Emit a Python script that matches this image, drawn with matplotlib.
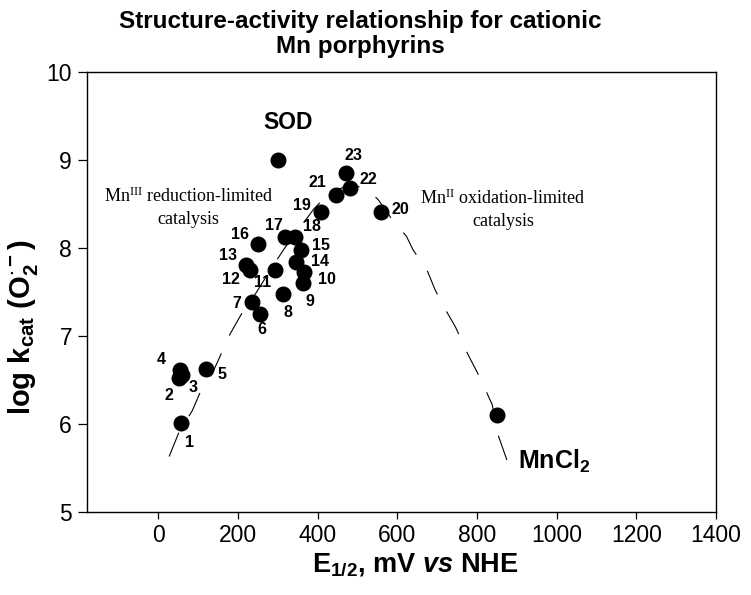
import matplotlib
matplotlib.use('Agg')
import matplotlib.pyplot as plt

plt.rcParams['font.family'] = ['Liberation Sans', 'DejaVu Sans']
plt.rcParams['mathtext.fontset'] = 'custom'
plt.rcParams['mathtext.rm'] = 'Liberation Sans:bold'
plt.rcParams['mathtext.bf'] = 'Liberation Sans:bold'
plt.rcParams['mathtext.it'] = 'Liberation Sans:italic:bold'
plt.rcParams['mathtext.default'] = 'regular'
plt.rcParams['lines.scale_dashes'] = False

# compounds 1-23: E1/2 (mV vs NHE) and log kcat
compound_ids = [str(i) for i in range(1, 24)]
e_half = [58, 52, 60, 54, 119, 255, 236, 313, 364, 365, 292, 230,
          219, 346, 357, 251, 319, 344, 409, 560, 447, 480, 470]
log_kcat = [6.01, 6.52, 6.56, 6.61, 6.62, 7.25, 7.39, 7.48, 7.60, 7.72, 7.75, 7.75,
            7.80, 7.84, 7.98, 8.04, 8.12, 8.12, 8.41, 8.41, 8.60, 8.68, 8.85]

# reference points
sod_e, sod_k = 300, 9.00
mncl2_e, mncl2_k = 850, 6.10

# dashed volcano curve
curve_x = [27, 52, 85, 108, 138, 163, 181, 215, 244, 269, 290, 313, 344, 372, 390,
           424, 460, 495, 531, 553, 587, 623, 639, 676, 695, 723, 746, 776, 808,
           838, 854, 875]
curve_y = [5.63, 5.91, 6.15, 6.39, 6.60, 6.85, 7.03, 7.30, 7.48, 7.66, 7.81, 7.97,
           8.17, 8.33, 8.44, 8.60, 8.68, 8.71, 8.64, 8.54, 8.32, 8.13, 7.98, 7.73,
           7.52, 7.28, 7.10, 6.80, 6.52, 6.22, 5.86, 5.59]

x_ticks = [0, 200, 400, 600, 800, 1000, 1200, 1400]
y_ticks = [5, 6, 7, 8, 9, 10]

# label offsets in pixels (right, down) from each point
label_px = [(8, 19), (-10, 17), (11, 13), (-19, -11), (16, 5), (2, 16), (-16, 2),
            (5, 19), (7, 18), (23, 7), (-12, 13), (-19, 10), (-18, -10), (24, 0),
            (20, -4), (-18, -10), (-12, -12), (17, -11), (-19, -6), (19, -2),
            (-19, -12), (19, -8), (8, -17)]

fig = plt.figure(figsize=(7.51, 5.95), dpi=100)
ax = fig.add_axes([86.7 / 751, 83 / 595, 629.3 / 751, 440.3 / 595])

ax.plot(curve_x, curve_y, color='black', lw=0.8, dashes=(18.5, 14), zorder=1)
ax.plot(e_half, log_kcat, 'o', color='black', ms=10.5, zorder=3)
ax.plot([sod_e, mncl2_e], [sod_k, mncl2_k], 'o', color='black', ms=10.5, zorder=3)

for cid, xv, yv, (dx, dy) in zip(compound_ids, e_half, log_kcat, label_px):
    ax.annotate(cid, (xv, yv), xytext=(dx * 0.72, -dy * 0.72), textcoords='offset points',
                ha='center', va='center', fontsize=11.5, fontweight='bold')

ax.text(325, 9.42, 'SOD', ha='center', va='center', fontsize=16.5, fontweight='bold')
ax.text(904, 5.485, 'MnCl$_2$', ha='left', va='baseline', fontsize=18, fontweight='bold')

# region notes, one text per line
serif = dict(ha='center', va='center', fontsize=13, family='Liberation Serif')
ax.text(76, 8.59, 'Mn$^{III}$ reduction-limited', **serif)
ax.text(76, 8.32, 'catalysis', **serif)
ax.text(865, 8.56, 'Mn$^{II}$ oxidation-limited', **serif)
ax.text(865, 8.30, 'catalysis', **serif)

ax.set_xlim(-180, 1400)
ax.set_ylim(5, 10)
ax.set_xticks(x_ticks)
ax.set_yticks(y_ticks)
ax.tick_params(axis='x', direction='out', length=5, width=0.9, pad=3.5, labelsize=16.5)
ax.tick_params(axis='y', direction='out', length=6.5, width=0.9, pad=4, labelsize=16.5)
for s in ax.spines.values():
    s.set_linewidth(1.0)

ax.set_xlabel('E$_{1/2}$, mV $\\mathit{vs}$ NHE', fontsize=19.5, fontweight='bold')
ax.xaxis.set_label_coords(0.522, -0.09)
ax.set_ylabel('log k$_{cat}$ (O$_2^{\\cdot -}$)', fontsize=21, fontweight='bold')
ax.yaxis.set_label_coords(-0.075, 0.42)

fig.text(0.48, 0.983, 'Structure-activity relationship for cationic\nMn porphyrins',
         ha='center', va='top', fontsize=17.5, fontweight='bold', linespacing=1.12)

plt.savefig('out.png', dpi=100)
